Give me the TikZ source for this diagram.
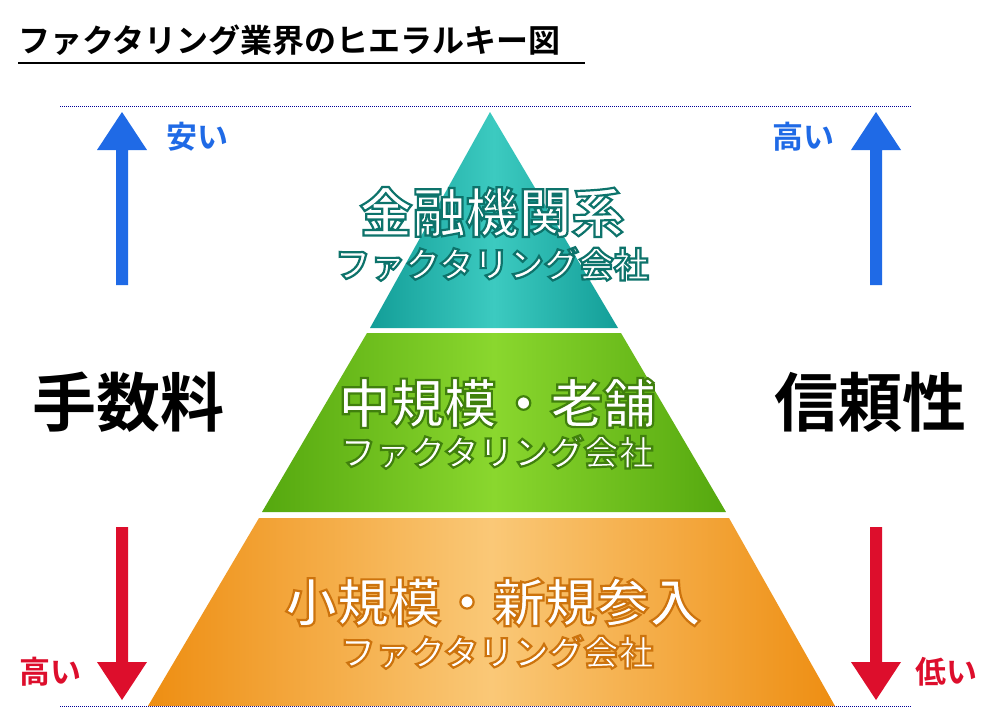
\documentclass[tikz,border=0pt]{standalone}
\usepackage{fontspec}
\newfontfamily\jp{Noto Sans CJK JP Bold}
\definecolor{tealA}{HTML}{139E98}\definecolor{tealB}{HTML}{3CCAC0}
\definecolor{grnA}{HTML}{55A80F}\definecolor{grnB}{HTML}{8AD72E}
\definecolor{orA}{HTML}{EE8E12}\definecolor{orB}{HTML}{FAC877}
\definecolor{bl}{HTML}{1F6AE6}\definecolor{rd}{HTML}{DD0E2C}
\tikzset{
 tiertxt/.style={font=\jp\fontsize{#1}{#1}\selectfont, text=white, inner sep=0pt},
 side/.style={font=\jp\fontsize{64}{64}\selectfont, inner sep=0pt},
 small/.style={font=\jp\fontsize{31}{31}\selectfont, inner sep=0pt},
 dots/.style={densely dotted, draw=blue!60!black, line width=1pt}
}
\newcommand{\otext}[5]{% pos, size, stroke rgb, text, name
 \node[tiertxt=#2] (#5) at (#1) {\special{pdf:literal direct 2 Tr 2.2 w #3 RG}#4\special{pdf:literal direct 0 Tr}};}
\begin{document}
\begin{tikzpicture}[x=1pt,y=-1pt]
\useasboundingbox (0,0) rectangle (1000,718);
\fill[white] (0,0) rectangle (1000,718);
\node[font=\jp\fontsize{32}{32}\selectfont, anchor=west, inner sep=0pt] (title) at (18,40) {ファクタリング業界のヒエラルキー図};
\draw[line width=1.5pt] (18,63) coordinate (u1) -- (585,63) coordinate (u2);
\draw[dots] (60,106) coordinate (d1) -- (912,106) coordinate (d2);
\draw[dots] (60,706) coordinate (d3) -- (912,706) coordinate (d4);
% pyramid
\shade[left color=tealA, right color=tealA, middle color=tealB] (490,112) -- (618,328) -- (370,328) -- cycle;
\shade[left color=grnA, right color=grnA, middle color=grnB] (367,333) -- (621,333) -- (726,512) -- (262,512) -- cycle;
\shade[left color=orA, right color=orA, middle color=orB] (259,518) -- (729,518) -- (835,706) -- (148,706) -- cycle;
\otext{492,212}{53}{0.05 0.45 0.42}{金融機関系}{t1}
\otext{492,264}{35}{0.05 0.45 0.42}{ファクタリング会社}{t2}
\otext{497,403}{53}{0.25 0.5 0.05}{中規模・老舗}{t3}
\otext{497,452}{35}{0.25 0.5 0.05}{ファクタリング会社}{t4}
\otext{493,602}{52}{0.8 0.45 0.05}{小規模・新規参入}{t5}
\otext{497,652}{35}{0.8 0.45 0.05}{ファクタリング会社}{t6}
% arrows
\fill[bl] (116,285) -- (116,150) -- (97,150) -- (122,112) -- (147,150) -- (128,150) -- (128,285) -- cycle;
\fill[bl] (870,285) -- (870,150) -- (851,150) -- (876,112) -- (901,150) -- (882,150) -- (882,285) -- cycle;
\fill[rd] (116,527) -- (116,662) -- (97,662) -- (122,700) -- (147,662) -- (128,662) -- (128,527) -- cycle;
\fill[rd] (870,527) -- (870,662) -- (851,662) -- (876,700) -- (901,662) -- (882,662) -- (882,527) -- cycle;
\node[small, text=bl] (l1) at (197,137) {安い};
\node[small, text=bl] (l2) at (803,137) {高い};
\node[small, text=rd] (l3) at (50,672) {高い};
\node[small, text=rd] (l4) at (946,672) {低い};
\node[side] (s1) at (128,402) {手数料};
\node[side] (s2) at (870,402) {信頼性};
\end{tikzpicture}
\end{document}
